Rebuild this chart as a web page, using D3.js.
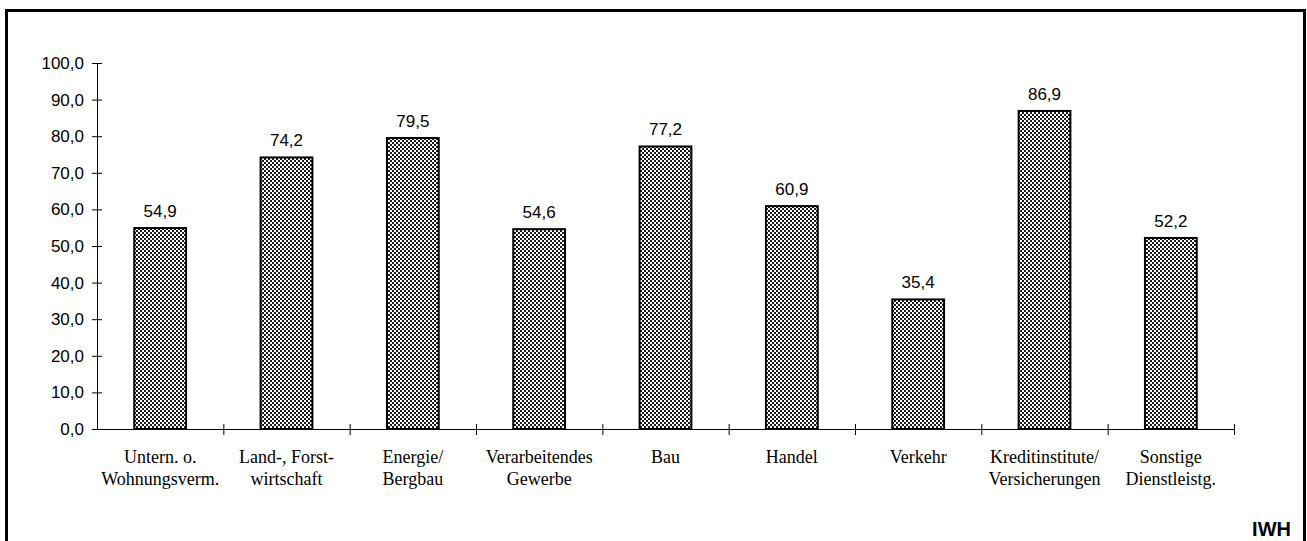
<!DOCTYPE html>
<html>
<head>
<meta charset="utf-8">
<script src="https://cdn.jsdelivr.net/npm/d3@7"></script>
<style>
  body { margin: 0; background: #fff; }
  svg { display: block; }
</style>
</head>
<body>
<div id="chart"></div>
<script>
var categories = [
  ["Untern. o.", "Wohnungsverm."],
  ["Land-, Forst-", "wirtschaft"],
  ["Energie/", "Bergbau"],
  ["Verarbeitendes", "Gewerbe"],
  ["Bau"],
  ["Handel"],
  ["Verkehr"],
  ["Kreditinstitute/", "Versicherungen"],
  ["Sonstige", "Dienstleistg."]
]
var values = [54.9, 74.2, 79.5, 54.6, 77.2, 60.9, 35.4, 86.9, 52.2]
var yTicks = [0, 10, 20, 30, 40, 50, 60, 70, 80, 90, 100]

var W = 1307, H = 541
var margin = {top: 63, left: 97, right: 73, bottom: 112}
var width = W - margin.left - margin.right
var height = H - margin.top - margin.bottom
var fmt = function(v) { return d3.format(".1f")(v).replace(".", ",") }
var sans = "Arial, 'Liberation Sans', sans-serif"
var serif = "'Times New Roman', 'Liberation Serif', serif"

var svg = d3.select("#chart").append("svg")
    .attr("width", W)
    .attr("height", H)

// crosshatch fill of the bars
var pat = svg.append("defs").append("pattern")
    .attr("id", "hatch")
    .attr("patternUnits", "userSpaceOnUse")
    .attr("width", 4)
    .attr("height", 4)
pat.append("rect").attr("width", 4).attr("height", 4).attr("fill", "#fff")
pat.append("path")
    .attr("d", "M0,0 L4,4 M4,0 L0,4")
    .attr("stroke", "#000")
    .attr("stroke-width", 0.9)

// outer frame
svg.append("rect")
    .attr("x", 6.5).attr("y", 10.5)
    .attr("width", 1298).attr("height", 540)
    .attr("fill", "none")
    .attr("stroke", "#000")
    .attr("stroke-width", 3)

var g = svg.append("g")
    .attr("transform", "translate(" + margin.left + "," + margin.top + ")")

var x = d3.scaleBand()
    .domain(d3.range(categories.length))
    .range([0, width])
    .paddingInner(0.59)
    .paddingOuter(0.295)

var y = d3.scaleLinear()
    .domain([0, 100])
    .range([height, 0])

// y axis
var yAxis = g.append("g")
    .call(d3.axisLeft(y).tickValues(yTicks).tickFormat(fmt).tickSize(5).tickSizeOuter(0))
yAxis.select(".domain").attr("stroke", "#000")
yAxis.selectAll(".tick line").attr("x1", -5).attr("x2", 5)
yAxis.selectAll(".tick text")
    .attr("x", -13)
    .attr("font-family", sans)
    .attr("font-size", 17)
    .attr("fill", "#000")

// x axis with ticks at category boundaries
var xb = d3.scaleLinear().domain([0, categories.length]).range([0, width])
var xAxis = g.append("g")
    .attr("transform", "translate(0," + height + ")")
    .call(d3.axisBottom(xb).tickValues(d3.range(1, categories.length + 1)).tickFormat("").tickSize(6).tickSizeOuter(0))
xAxis.select(".domain").attr("stroke", "#000")
xAxis.selectAll(".tick line").attr("y1", -5).attr("y2", 6)

// bars
g.selectAll(".bar")
    .data(values)
    .enter().append("rect")
    .attr("class", "bar")
    .attr("x", function(d, i) { return x(i) })
    .attr("y", function(d) { return y(d) })
    .attr("width", x.bandwidth())
    .attr("height", function(d) { return height - y(d) })
    .attr("fill", "url(#hatch)")
    .attr("stroke", "#000")
    .attr("stroke-width", 2)

// value labels
g.selectAll(".val")
    .data(values)
    .enter().append("text")
    .attr("class", "val")
    .attr("x", function(d, i) { return x(i) + x.bandwidth() / 2 })
    .attr("y", function(d) { return y(d) - 11 })
    .attr("text-anchor", "middle")
    .attr("font-family", sans)
    .attr("font-size", 17)
    .text(function(d) { return fmt(d) })

// category labels
var cat = g.selectAll(".cat")
    .data(categories)
    .enter().append("text")
    .attr("class", "cat")
    .attr("text-anchor", "middle")
    .attr("font-family", serif)
    .attr("font-size", 18)
    .attr("transform", function(d, i) { return "translate(" + (x(i) + x.bandwidth() / 2) + "," + (height + 34) + ")" })
cat.selectAll("tspan")
    .data(function(d) { return d })
    .enter().append("tspan")
    .attr("x", 0)
    .attr("dy", function(d, i) { return i === 0 ? 0 : 22 })
    .text(function(d) { return d })

// source mark
svg.append("text")
    .attr("x", 1291)
    .attr("y", 536)
    .attr("text-anchor", "end")
    .attr("font-family", sans)
    .attr("font-weight", "bold")
    .attr("font-size", 20)
    .text("IWH")
</script>
</body>
</html>
